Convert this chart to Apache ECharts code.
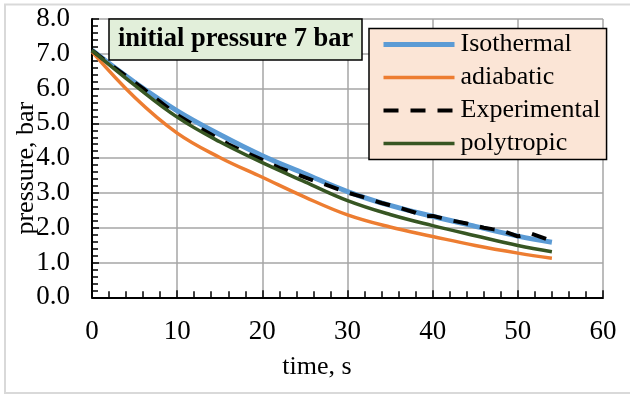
<!DOCTYPE html>
<html>
<head>
<meta charset="utf-8">
<script src="https://cdn.jsdelivr.net/npm/echarts@6/dist/echarts.min.js"></script>
<style>
html,body{margin:0;padding:0;background:#fff;}
#c{width:630px;height:396px;}
</style>
</head>
<body>
<div id="c"></div>
<script>
// ---- data ----
const modelTime = [0, 5, 10, 15, 20, 25, 30, 35, 40, 45, 50, 54];
const isothermal = [7.10, 6.18, 5.36, 4.68, 4.07, 3.55, 3.04, 2.64, 2.33, 2.04, 1.76, 1.58];
const adiabatic  = [7.06, 5.75, 4.72, 4.02, 3.45, 2.88, 2.37, 2.02, 1.75, 1.49, 1.27, 1.12];
const polytropic = [7.10, 6.10, 5.18, 4.47, 3.87, 3.32, 2.78, 2.38, 2.06, 1.77, 1.49, 1.31];
const expTime = [0, 2, 4, 6, 8, 10, 12, 14, 16, 18, 20, 22, 24, 26, 28, 30, 32, 34, 36, 38, 39, 40, 42, 44, 46, 47, 48, 50, 51.5, 54];
const experimental = [7.10, 6.72, 6.36, 6.00, 5.62, 5.24, 4.95, 4.68, 4.40, 4.17, 3.95, 3.72, 3.54, 3.36, 3.19, 3.01, 2.87, 2.71, 2.58, 2.43, 2.32, 2.34, 2.22, 2.12, 2.00, 1.96, 1.93, 1.75, 1.84, 1.62];
const seriesNames = ['Isothermal', 'adiabatic', 'Experimental', 'polytropic'];
const xTicks = {min: 0, max: 60, interval: 10};
const yTicks = {min: 0, max: 8, interval: 1};
const titleText = 'initial pressure 7 bar';
const xName = 'time, s';
const yName = 'pressure, bar';

function pairs(t, v){ return t.map((x, i) => [x, v[i]]); }

const FONT = '"Liberation Serif", "Times New Roman", serif';
const chart = echarts.init(document.getElementById('c'), null, {renderer: 'canvas'});
chart.setOption({
  animation: false,
  backgroundColor: '#fff',
  graphic: [{
    type: 'rect', silent: true, z: -1,
    shape: {x: 5, y: 4.5, width: 640, height: 388.5},
    style: {fill: 'none', stroke: '#d9d9d9', lineWidth: 2}
  }],
  title: {
    text: titleText,
    left: 109, top: 19,
    padding: [6, 9, 6, 9],
    backgroundColor: '#e2efda',
    borderColor: '#000', borderWidth: 1.5,
    textStyle: {fontFamily: FONT, fontWeight: 'bold', fontSize: 26.5, color: '#000', lineHeight: 29}
  },
  legend: {
    data: seriesNames,
    orient: 'vertical',
    left: 369, top: 28.5,
    padding: [3, 6, 3, 12],
    itemWidth: 71, itemHeight: 14, itemGap: 7,
    backgroundColor: '#fbe5d6',
    borderColor: '#000', borderWidth: 1.5,
    itemStyle: {opacity: 0},
    lineStyle: {width: 'inherit'},
    textStyle: {fontFamily: FONT, fontSize: 26, color: '#000', lineHeight: 26, padding: [0, 0, 0, 1]}
  },
  grid: {left: 92, right: 27, top: 19, bottom: 98.7, containLabel: false, outerBoundsMode: 'none'},
  xAxis: {
    type: 'value', min: xTicks.min, max: xTicks.max, interval: xTicks.interval,
    name: xName, nameLocation: 'middle', nameGap: 57, nameMoveOverlap: false,
    nameTextStyle: {fontFamily: FONT, fontSize: 26, color: '#000', padding: [0, 61, 0, 0]},
    axisLine: {show: true, onZero: false, lineStyle: {color: '#000', width: 2}},
    axisTick: {show: true, inside: true, length: 7, lineStyle: {color: '#000', width: 1.5}},
    minorTick: {show: true, splitNumber: 5, length: 6, lineStyle: {color: '#000', width: 1.5}},
    axisLabel: {fontFamily: FONT, fontSize: 27, color: '#000', margin: 21},
    splitLine: {show: true, lineStyle: {color: '#a6a6a6', width: 1.5}}
  },
  yAxis: {
    type: 'value', min: yTicks.min, max: yTicks.max, interval: yTicks.interval,
    name: yName, nameLocation: 'middle', nameRotate: 90, nameGap: 53, nameMoveOverlap: false,
    nameTextStyle: {fontFamily: FONT, fontSize: 26, color: '#000', padding: [0, 20, 0, 0]},
    axisLine: {show: true, onZero: false, lineStyle: {color: '#000', width: 2}},
    axisTick: {show: true, inside: true, length: 7, lineStyle: {color: '#000', width: 1.5}},
    minorTick: {show: true, splitNumber: 5, length: 6, lineStyle: {color: '#000', width: 1.5}},
    axisLabel: {fontFamily: FONT, fontSize: 27, color: '#000', margin: 22, formatter: v => v.toFixed(1)},
    splitLine: {show: true, lineStyle: {color: '#a6a6a6', width: 1.5}}
  },
  series: [
    {name: seriesNames[0], type: 'line', smooth: 0.4, symbol: 'none', showSymbol: false,
     data: pairs(modelTime, isothermal), lineStyle: {color: '#5b9bd5', width: 5}, itemStyle: {color: '#5b9bd5'}},
    {name: seriesNames[1], type: 'line', smooth: 0.4, symbol: 'none', showSymbol: false,
     data: pairs(modelTime, adiabatic), lineStyle: {color: '#ed7d31', width: 3.5}, itemStyle: {color: '#ed7d31'}},
    {name: seriesNames[2], type: 'line', smooth: false, symbol: 'none', showSymbol: false,
     data: pairs(expTime, experimental), lineStyle: {color: '#000', width: 4, type: [15, 12]}, itemStyle: {color: '#000'}},
    {name: seriesNames[3], type: 'line', smooth: 0.4, symbol: 'none', showSymbol: false,
     data: pairs(modelTime, polytropic), lineStyle: {color: '#375623', width: 3.5}, itemStyle: {color: '#375623'}}
  ]
});
</script>
</body>
</html>
